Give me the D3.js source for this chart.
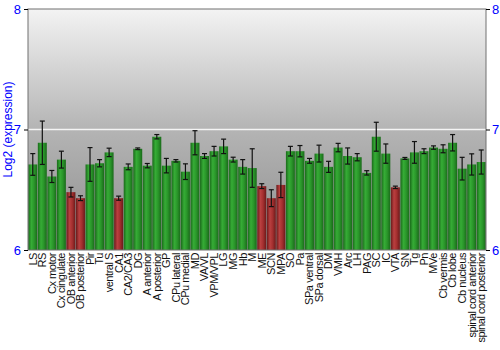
<!DOCTYPE html>
<html><head><meta charset="utf-8">
<script src="https://cdn.jsdelivr.net/npm/d3@7"></script>
<style>body{margin:0;background:#fff}svg{display:block}</style>
</head><body><svg id="c" width="500" height="350"></svg>
<script>
const categories = ["LS","RS","Cx motor","Cx cingulate","OB anterior","OB posterior","Pir","Tu","ventral S","CA1","CA2/CA3","DG","A anterior","A posterior","GP","CPu lateral","CPu medial","MD","VA/VL","VPM/VPL","LG","MG","Hb","M","ME","SCN","MPA","SO","Pa","SPa ventral","SPa dorsal","DM","VMH","Arc","LH","PAG","SC","IC","VTA","SN","Tg","Pn","MVe","Cb vermis","Cb lobe","Cb nucleus","spinal cord anterior","spinal cord posterior"];
const values = [6.71,6.89,6.61,6.75,6.48,6.43,6.71,6.72,6.81,6.43,6.69,6.84,6.70,6.94,6.70,6.74,6.65,6.89,6.78,6.82,6.86,6.75,6.69,6.68,6.53,6.43,6.54,6.82,6.82,6.74,6.80,6.69,6.85,6.78,6.77,6.64,6.94,6.80,6.52,6.76,6.81,6.82,6.85,6.84,6.89,6.675,6.71,6.73];
const errors = [0.09,0.18,0.05,0.07,0.04,0.02,0.14,0.03,0.035,0.017,0.024,0.007,0.018,0.018,0.06,0.01,0.065,0.10,0.02,0.04,0.06,0.02,0.06,0.16,0.02,0.07,0.105,0.04,0.047,0.02,0.07,0.046,0.035,0.067,0.03,0.018,0.12,0.08,0.01,0.008,0.09,0.02,0.014,0.033,0.068,0.094,0.088,0.10];
const lowGroup = ["OB anterior","OB posterior","CA1","ME","SCN","MPA","VTA"];
const yTicks = [6,7,8];
const yTitle = "Log2 (expression)";

const svg = d3.select("#c");
const m = {l:28, r:14, t:9, b:100};
const W = 500, H = 350;
const x = d3.scaleBand().domain(categories).range([m.l, W-m.r]).paddingInner(0.06).paddingOuter(0.03);
const y = d3.scaleLinear().domain([6,8]).range([H-m.b, m.t]);

const defs = svg.append("defs");
const bg = defs.append("linearGradient").attr("id","bg").attr("x1",0).attr("y1",0).attr("x2",0).attr("y2",1);
bg.append("stop").attr("offset","0%").attr("stop-color","#f3f3f3");
bg.append("stop").attr("offset","50%").attr("stop-color","#b4b4b4");
bg.append("stop").attr("offset","100%").attr("stop-color","#8e8e8e");
function barGrad(id, dark, mid, light){
  const g = defs.append("linearGradient").attr("id",id).attr("x1",0).attr("y1",0).attr("x2",1).attr("y2",0);
  g.append("stop").attr("offset","0%").attr("stop-color",dark);
  g.append("stop").attr("offset","35%").attr("stop-color",light);
  g.append("stop").attr("offset","65%").attr("stop-color",mid);
  g.append("stop").attr("offset","100%").attr("stop-color",dark);
}
barGrad("gG","#1a6a1a","#2a962a","#36ac36");
barGrad("gR","#6a1a1a","#a42f2f","#ba4040");

svg.append("rect").attr("x",m.l).attr("y",m.t).attr("width",W-m.r-m.l).attr("height",H-m.b-m.t).attr("fill","url(#bg)");
svg.append("line").attr("x1",m.l).attr("x2",W-m.r).attr("y1",y(7)).attr("y2",y(7)).attr("stroke","#f4f4f4").attr("stroke-width",1.5);

svg.append("g").selectAll("rect").data(categories).join("rect")
  .attr("x",d=>x(d)).attr("width",x.bandwidth())
  .attr("y",(d,i)=>y(values[i])).attr("height",(d,i)=>y(6)-y(values[i]))
  .attr("fill",d=>lowGroup.includes(d)?"url(#gR)":"url(#gG)");

const eb = svg.append("g").attr("stroke","#111").attr("stroke-width",1.2);
categories.forEach((c,i)=>{
  const cx = x(c)+x.bandwidth()/2;
  const y1 = y(values[i]+errors[i]), y2 = y(values[i]-errors[i]);
  eb.append("line").attr("x1",cx).attr("x2",cx).attr("y1",y1).attr("y2",y2);
  eb.append("line").attr("x1",cx-2.5).attr("x2",cx+2.5).attr("y1",y1).attr("y2",y1);
  eb.append("line").attr("x1",cx-2.5).attr("x2",cx+2.5).attr("y1",y2).attr("y2",y2);
});

svg.append("rect").attr("x",m.l).attr("y",m.t).attr("width",W-m.r-m.l).attr("height",H-m.b-m.t)
  .attr("fill","none").attr("stroke","#707070").attr("stroke-width",1);

const la = svg.append("g").attr("transform",`translate(${m.l},0)`).call(d3.axisLeft(y).tickValues(yTicks).tickFormat(d3.format("d")).tickSize(4));
const ra = svg.append("g").attr("transform",`translate(${W-m.r},0)`).call(d3.axisRight(y).tickValues(yTicks).tickFormat(d3.format("d")).tickSize(4));
[la,ra].forEach(a=>{
  a.select(".domain").remove();
  a.selectAll("line").attr("stroke","#000");
  a.selectAll("text").attr("fill","#0000ff").attr("font-family","Liberation Sans, Arial, sans-serif").attr("font-size",13);
});
la.selectAll("text").attr("x",-7);
ra.selectAll("text").attr("x",6);

const xa = svg.append("g").attr("transform",`translate(0,${H-m.b})`).call(d3.axisBottom(x).tickSize(0));
xa.select(".domain").remove();
xa.selectAll("text").attr("font-family","Liberation Sans, Arial, sans-serif").attr("font-size",11).attr("fill","#111")
  .attr("letter-spacing","-0.45px")
  .attr("transform","rotate(-90)").attr("text-anchor","end").attr("dx","-3").attr("dy","0.35em").attr("x",0).attr("y",0);

svg.append("text").attr("transform",`translate(12,${(m.t+H-m.b)/2}) rotate(-90)`).attr("text-anchor","middle")
  .attr("fill","#0000ff").attr("font-family","Liberation Sans, Arial, sans-serif").attr("font-size",12).text(yTitle);
</script></body></html>
